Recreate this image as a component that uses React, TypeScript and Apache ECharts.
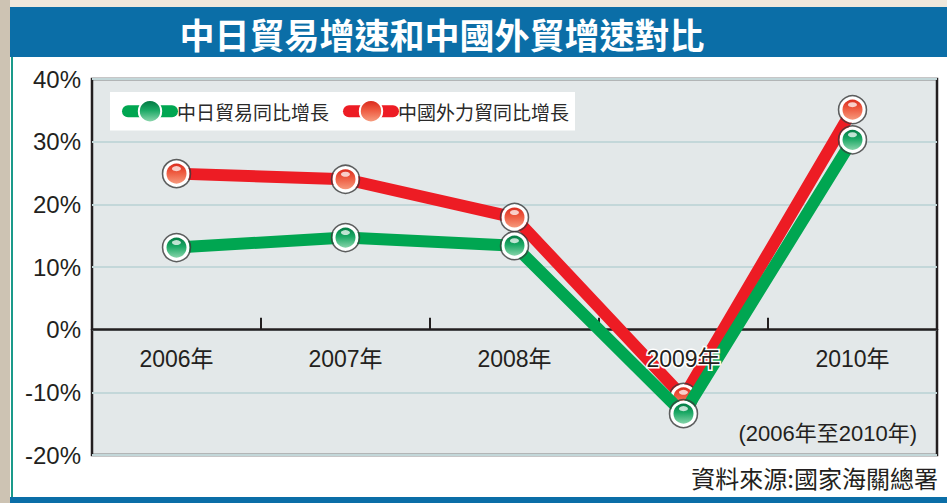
import React, { useEffect, useRef } from "react";
import * as echarts from "echarts";

const title = "中日貿易增速和中國外貿增速對比";
const categories = ["2006年", "2007年", "2008年", "2009年", "2010年"];
const seriesNames = ["中日貿易同比增長", "中國外力貿同比增長"];
const japanTrade = [13.1, 14.7, 13.4, -13.4, 30.3];
const foreignTrade = [24.9, 24.0, 17.9, -10.8, 35.1];
const yMin = -20;
const yMax = 40;
const yStep = 10;
const periodNote = "(2006年至2010年)";
const sourceNote = "資料來源:國家海關總署";

const GREEN = "#00a651";
const RED = "#ed1c24";
const CJK = "'Liberation Sans', 'Noto Sans CJK TC', sans-serif";

const GRID_TOP = 79;
const GRID_BOTTOM = 48;
const CHART_H = 503;

function markerFill(top: string, mid: string, bottom: string) {
  return new echarts.graphic.LinearGradient(0, 0, 0, 1, [
    { offset: 0, color: top },
    { offset: 0.45, color: mid },
    { offset: 1, color: bottom },
  ]);
}

function seriesSet(name: string, data: number[], color: string, fill: any, zBase: number) {
  return [
    {
      name,
      type: "line",
      data,
      z: zBase,
      xAxisIndex: 0,
      symbol: "circle",
      symbolSize: 23,
      lineStyle: { color, width: 12, cap: "round", join: "round" },
      itemStyle: { color: fill, borderColor: "#ffffff", borderWidth: 3 },
    },
    {
      type: "scatter",
      data,
      z: zBase + 1,
      xAxisIndex: 0,
      symbol: "circle",
      symbolSize: 28,
      silent: true,
      itemStyle: { color: "rgba(0,0,0,0)", borderColor: "#3a3a3a", borderWidth: 1.5 },
    },
    {
      type: "scatter",
      data,
      z: zBase + 1,
      xAxisIndex: 0,
      symbol: "circle",
      symbolSize: [9, 5],
      symbolOffset: [0, -5],
      silent: true,
      itemStyle: { color: "rgba(255,255,255,0.92)" },
    },
  ];
}

export default function App() {
  const ref = useRef<HTMLDivElement>(null);
  useEffect(() => {
    if (!ref.current) return;
    const chart = echarts.init(ref.current, null, { renderer: "svg" });
    const greenFill = markerFill("#00743f", "#1aa864", "#93d9b2");
    const redFill = markerFill("#d8261a", "#ee5a40", "#f7a184");
    const plotH = CHART_H - GRID_TOP - GRID_BOTTOM;
    const zeroFromBottom = (plotH * (0 - yMin)) / (yMax - yMin);
    chart.setOption({
      animation: false,
      backgroundColor: "#ffffff",
      textStyle: { fontFamily: CJK },
      grid: {
        left: 92,
        right: 10,
        top: GRID_TOP,
        bottom: GRID_BOTTOM,
        show: true,
        backgroundColor: "#e3e8e9",
        borderColor: "#231f20",
        borderWidth: 2.5,
        containLabel: false,
      },
      legend: {
        data: seriesNames,
        left: 110,
        top: 92,
        orient: "horizontal",
        backgroundColor: "#ffffff",
        padding: [7, 6, 7, 12],
        itemGap: 14,
        itemWidth: 44,
        itemHeight: 28,
        lineStyle: { width: 12, cap: "round" },
        selectedMode: false,
        textStyle: { fontSize: 19, color: "#2a2a2a", fontFamily: "'Noto Sans CJK TC', sans-serif" },
      },
      xAxis: [
        {
          type: "category",
          data: categories,
          boundaryGap: true,
          z: 1,
          axisLine: { show: true, onZero: true, lineStyle: { color: "#231f20", width: 2.5 } },
          axisTick: { show: true, inside: true, length: 12, lineStyle: { color: "#231f20", width: 2 } },
          axisLabel: { show: false },
          splitLine: { show: false },
        },
        {
          type: "category",
          data: categories,
          boundaryGap: true,
          position: "bottom",
          offset: -zeroFromBottom,
          z: 20,
          axisLine: { show: false, onZero: false },
          axisTick: { show: false },
          splitLine: { show: false },
          axisLabel: {
            show: true,
            fontSize: 23,
            color: "#231f20",
            margin: 18,
            fontFamily: CJK,
            formatter: (v: string) => (v === "2009年" ? "{h|" + v + "}" : v),
            rich: {
              h: {
                fontSize: 23,
                color: "#231f20",
                fontFamily: CJK,
                textBorderColor: "#ffffff",
                textBorderWidth: 3,
              },
            },
          },
        },
      ],
      yAxis: {
        type: "value",
        min: yMin,
        max: yMax,
        interval: yStep,
        axisLine: { show: false },
        axisTick: { show: false },
        axisLabel: {
          formatter: "{value}%",
          fontSize: 24,
          color: "#231f20",
          margin: 11,
          fontFamily: "'Liberation Sans', sans-serif",
        },
        splitLine: { show: true, lineStyle: { color: "#c3d7d9", width: 2 } },
      },
      series: [
        ...seriesSet(seriesNames[1], foreignTrade, RED, redFill, 2),
        ...seriesSet(seriesNames[0], japanTrade, GREEN, greenFill, 4),
      ],
      graphic: [
        { type: "rect", shape: { x: 0, y: 0, width: 947, height: 7 }, style: { fill: "#efe8dc" }, silent: true },
        { type: "rect", shape: { x: 0, y: 0, width: 10, height: 503 }, style: { fill: "#cdc3b3" }, silent: true },
        { type: "rect", shape: { x: 10, y: 7, width: 937, height: 50 }, style: { fill: "#0b6ea7" }, silent: true },
        { type: "rect", shape: { x: 10, y: 497, width: 937, height: 6 }, style: { fill: "#0b6ea7" }, silent: true },
        { type: "line", shape: { x1: 12, y1: 57, x2: 12, y2: 497 }, style: { stroke: "#1a9a8a", lineWidth: 2 }, silent: true },
        {
          type: "text",
          x: 442,
          y: 33,
          style: {
            text: title,
            fill: "#ffffff",
            fontSize: 35,
            fontWeight: "bold",
            fontFamily: "'Noto Sans CJK TC', sans-serif",
            align: "center",
            verticalAlign: "middle",
          },
          silent: true,
        },
        {
          type: "text",
          x: 917,
          y: 433,
          z: 30,
          style: {
            text: periodNote,
            fill: "#231f20",
            fontSize: 22,
            fontFamily: CJK,
            align: "right",
            verticalAlign: "middle",
          },
          silent: true,
        },
        {
          type: "text",
          x: 938,
          y: 477,
          style: {
            text: sourceNote,
            fill: "#231f20",
            fontSize: 24,
            fontFamily: "'Noto Sans CJK TC', sans-serif",
            align: "right",
            verticalAlign: "middle",
          },
          silent: true,
        },
      ],
    });
    return () => chart.dispose();
  }, []);
  return (
    <div
      ref={ref}
      style={{ position: "fixed", left: 0, top: 0, width: 947, height: 503, background: "#fff" }}
    />
  );
}
